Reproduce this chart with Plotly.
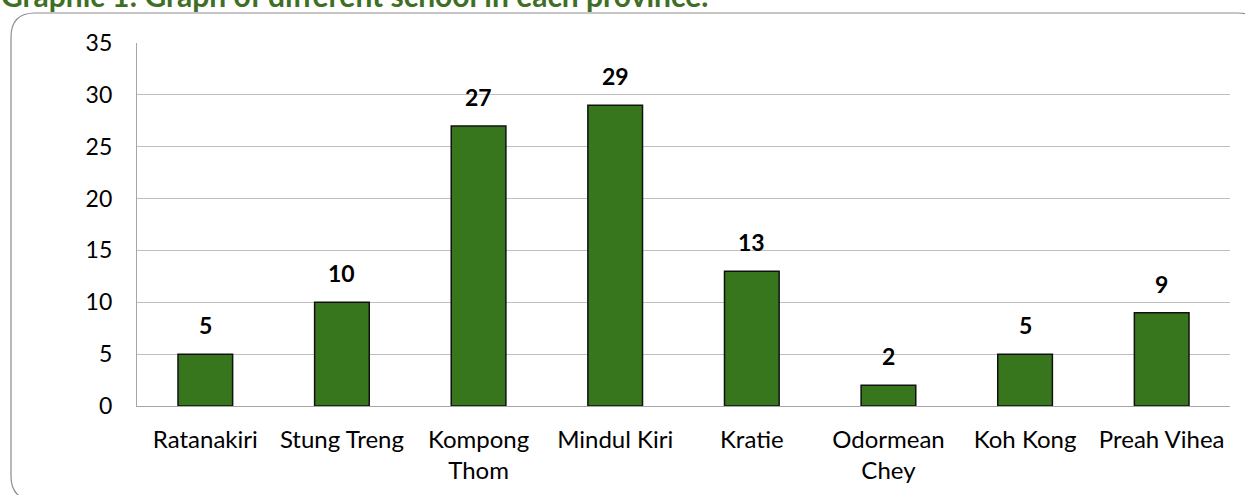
import plotly.graph_objects as go

categories = ["Ratanakiri", "Stung Treng", "Kompong<br>Thom", "Mindul Kiri", "Kratie",
              "Odormean<br>Chey", "Koh Kong", "Preah Vihea"]
values = [5, 10, 27, 29, 13, 2, 5, 9]
y_ticks = [0, 5, 10, 15, 20, 25, 30, 35]
title_text = "Graphic 1: Graph of different school in each province."

W, H = 1245, 495
L, R, T, B = 137, 15, 43, 89
pw, ph = W - L - R, H - T - B

def px(x):
    return (x - L) / pw

def py(y):
    return (H - B - y) / ph

FONT = "Lato, 'Open Sans', sans-serif"

fig = go.Figure()
fig.add_trace(go.Bar(
    x=categories, y=values,
    marker=dict(color="#38761d", line=dict(color="#111111", width=1.5)),
    width=0.4,
    hoverinfo="skip",
))

for c, v in zip(categories, values):
    fig.add_annotation(x=c, y=v, text=f"<b>{v}</b>", showarrow=False,
                       yanchor="bottom", yshift=13,
                       font=dict(family=FONT, size=23, color="#000000"))

# title (partially cut at top)
fig.add_annotation(xref="paper", yref="paper", x=px(-1), y=py(15),
                   xanchor="left", yanchor="bottom", showarrow=False,
                   text=f"<b>{title_text}</b>",
                   font=dict(family=FONT, size=30, color="#3f6f25"))

# rounded border
x0, x1, y0, y1, r = 11, 1262, 13, 500, 24
path = (f"M {px(x0)},{py(y0 + r)} "
        f"Q {px(x0)},{py(y0)} {px(x0 + r)},{py(y0)} "
        f"L {px(x1 - r)},{py(y0)} "
        f"Q {px(x1)},{py(y0)} {px(x1)},{py(y0 + r)} "
        f"L {px(x1)},{py(y1 - r)} "
        f"Q {px(x1)},{py(y1)} {px(x1 - r)},{py(y1)} "
        f"L {px(x0 + r)},{py(y1)} "
        f"Q {px(x0)},{py(y1)} {px(x0)},{py(y1 - r)} Z")
fig.add_shape(type="path", xref="paper", yref="paper", path=path,
              line=dict(color="#8c8c8c", width=1.2), layer="below")

fig.update_layout(
    width=W, height=H,
    margin=dict(l=L, r=R, t=T, b=B, autoexpand=False),
    paper_bgcolor="white", plot_bgcolor="white",
    showlegend=False,
    bargap=0.6,
    font=dict(family=FONT, size=24, color="#000000"),
)
fig.update_xaxes(showline=True, linecolor="#a6a6a6", linewidth=1.2,
                 ticks="", ticklabelstandoff=12,
                 tickfont=dict(family=FONT, size=24, color="#000000"))
fig.update_yaxes(range=[0, 35], tickvals=y_ticks, showgrid=True,
                 gridcolor="#bfbfbf", gridwidth=1, zeroline=False,
                 showline=True, linecolor="#a6a6a6", linewidth=1.2,
                 ticks="", ticklabelstandoff=19,
                 tickfont=dict(family=FONT, size=23, color="#000000"))

fig.write_html("out.html", config={"displayModeBar": False},
               post_script="document.body.style.margin='0';document.body.style.overflow='hidden';")
